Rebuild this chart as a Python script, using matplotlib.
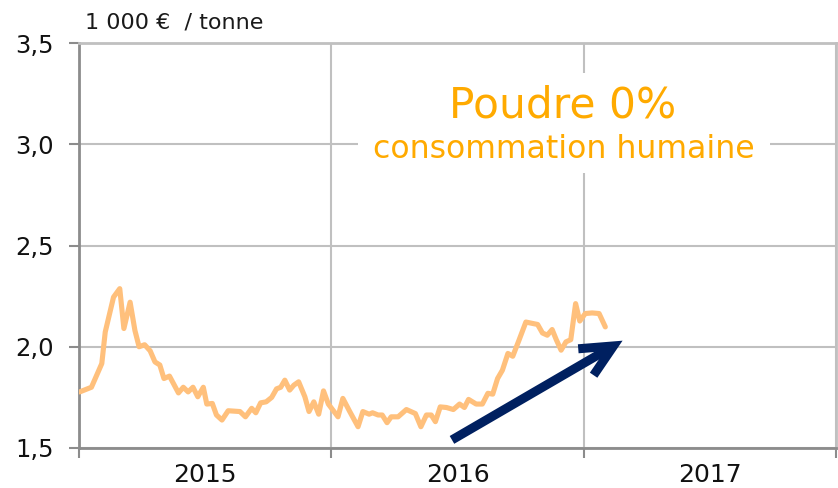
import matplotlib
matplotlib.use("Agg")
import matplotlib.pyplot as plt

# Days since 2015-01-01 and price (1 000 EUR / tonne)
days = [1, 18, 33, 38, 50, 59, 65, 74, 81, 87, 95, 103, 110, 117, 123, 131,
        144, 151, 158, 165, 172, 180, 185, 193, 199, 207, 216, 233, 241, 250,
        256, 263, 271, 279, 286, 292, 298, 305, 311, 318, 327, 333, 340, 347,
        354, 361, 375, 382, 392, 404, 411, 420, 425, 433, 439, 446, 452, 462,
        474, 487, 495, 503, 510, 516, 523, 532, 542, 551, 558, 564, 575, 584,
        592, 599, 606, 613, 621, 628, 637, 647, 654, 664, 671, 678, 685, 691,
        698, 705, 712, 719, 725, 733, 743, 753, 762]
prices = [1.777, 1.80, 1.917, 2.073, 2.245, 2.287, 2.09, 2.22, 2.08, 2.00,
          2.01, 1.98, 1.925, 1.91, 1.843, 1.855, 1.772, 1.80, 1.777, 1.80,
          1.753, 1.80, 1.717, 1.72, 1.663, 1.638, 1.684, 1.68, 1.654, 1.696,
          1.674, 1.723, 1.728, 1.75, 1.792, 1.80, 1.835, 1.786, 1.81, 1.827,
          1.753, 1.68, 1.728, 1.667, 1.782, 1.717, 1.654, 1.745, 1.68, 1.605,
          1.68, 1.667, 1.674, 1.663, 1.663, 1.625, 1.654, 1.654, 1.69, 1.67,
          1.605, 1.663, 1.663, 1.63, 1.703, 1.70, 1.69, 1.717, 1.70, 1.74,
          1.717, 1.717, 1.77, 1.766, 1.843, 1.884, 1.967, 1.953, 2.032, 2.122,
          2.117, 2.11, 2.068, 2.057, 2.085, 2.035, 1.983, 2.024, 2.035, 2.213,
          2.127, 2.164, 2.167, 2.164, 2.098]

year_bounds = [0, 365, 731, 1096]
year_labels = ["2015", "2016", "2017"]
y_ticks = [1.5, 2.0, 2.5, 3.0, 3.5]
y_labels = ["1,5", "2,0", "2,5", "3,0", "3,5"]

fig = plt.figure(figsize=(8.38, 4.88), dpi=100)
ax = fig.add_axes([79 / 838, 40 / 488, (836 - 79) / 838, (448 - 43) / 488])

grid_c = "#C0C0C0"
axis_c = "#8C8C8C"

ax.set_xlim(year_bounds[0], year_bounds[-1])
ax.set_ylim(1.5, 3.5)

ax.set_yticks(y_ticks)
ax.set_yticklabels(y_labels, fontsize=17.5, color="#111111")
ax.set_xticks(year_bounds)
ax.set_xticklabels([])
mids = [(year_bounds[i] + year_bounds[i + 1]) / 2 for i in range(len(year_labels))]
ax.set_xticks(mids, minor=True)
ax.set_xticklabels(year_labels, minor=True, fontsize=18, color="#111111")

ax.tick_params(axis="y", which="major", length=7, width=1.5, color=axis_c, pad=11)
ax.tick_params(axis="x", which="major", length=7, width=1.5, color=axis_c)
ax.tick_params(axis="x", which="minor", length=0, pad=11)

ax.grid(True, axis="both", which="major", color=grid_c, linewidth=1.5, zorder=0)
ax.set_axisbelow(True)

for side in ["left", "bottom"]:
    ax.spines[side].set_color(axis_c)
    ax.spines[side].set_linewidth(2)
for side in ["top", "right"]:
    ax.spines[side].set_color(grid_c)
    ax.spines[side].set_linewidth(2)

ax.plot(days, prices, color="#FFC07C", linewidth=3.7, solid_joinstyle="round",
        solid_capstyle="round", zorder=3)

ax.annotate("", xy=(787, 2.03), xytext=(540, 1.54),
            arrowprops=dict(arrowstyle="->,head_length=2.3,head_width=1.1",
                            color="#002060", linewidth=6.5,
                            shrinkA=0, shrinkB=0, capstyle="butt",
                            joinstyle="miter"),
            zorder=4)

fig.patches.append(plt.Rectangle((358 / 838, 1 - 173 / 488), (770 - 358) / 838,
                                 (173 - 73) / 488, transform=fig.transFigure,
                                 facecolor="white", edgecolor="none", zorder=2))
fig.text(563 / 838, 1 - 106 / 488, "Poudre 0%", fontsize=30.5, color="#FFAA00",
         ha="center", va="center", zorder=5)
fig.text(564 / 838, 1 - 150 / 488, "consommation humaine", fontsize=22.7,
         color="#FFAA00", ha="center", va="center", zorder=5)

fig.text(85 / 838, 1 - 22 / 488, "1 000 €  / tonne", fontsize=16,
         color="#1a1a1a", ha="left", va="center")

fig.savefig("out.png", dpi=100)
